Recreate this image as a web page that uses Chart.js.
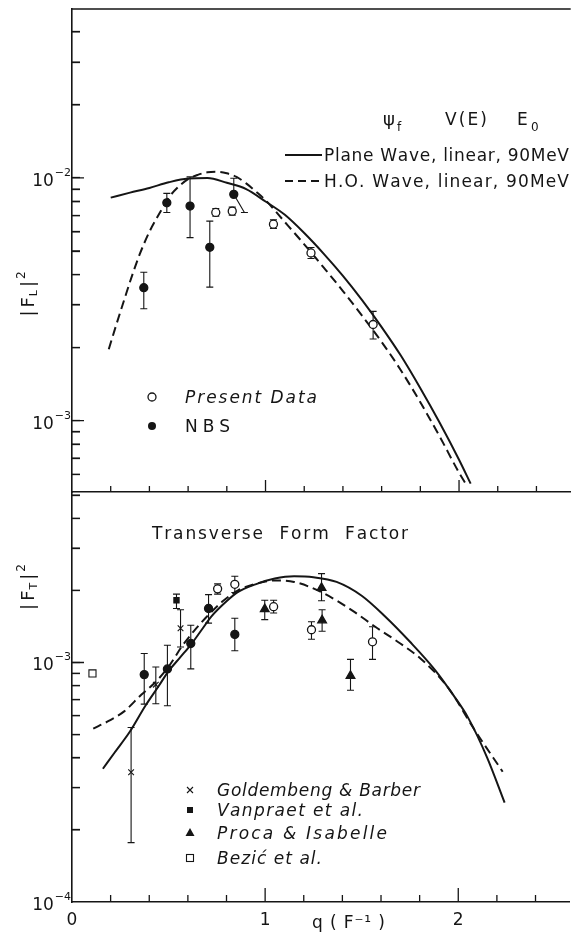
<!DOCTYPE html>
<html>
<head>
<meta charset="utf-8">
<script src="https://cdn.jsdelivr.net/npm/chart.js@4.4.1/dist/chart.umd.min.js"></script>
<style>
  html, body { margin: 0; padding: 0; background: #fff; }
  #wrap { position: relative; width: 576px; height: 937px; overflow: hidden; }
  #wrap canvas { position: absolute; left: 0; }
  #topCanvas { top: -20px; }
  #botCanvas { top: 462px; }
</style>
</head>
<body>
<div id="wrap">
  <canvas id="topCanvas" width="576" height="540"></canvas>
  <canvas id="botCanvas" width="576" height="475"></canvas>
</div>
<script>
// ---- values ----
const X_MAX = 2.577;
const X_LABEL_TICKS = [0, 1, 2];
const X_LABELS = ['0', '1', '2'];
const X_TICK_MARKS = [0.2, 0.4, 0.6, 0.8, 1.0, 1.2, 1.4, 1.6, 1.8, 2.0, 2.2, 2.4];
const DECADES = [1e-4, 1e-3, 1e-2];
const DECADE_EXPONENTS = ['−4', '−3', '−2'];
const LOG_MANTISSAS = [1, 2, 3, 4, 5, 6, 7, 8, 9];

// longitudinal form factor |F_L|^2
const planeTopQ = [0.20, 0.30, 0.40, 0.50, 0.60, 0.70, 0.80, 0.90, 1.00, 1.10, 1.20, 1.30, 1.40, 1.50, 1.60, 1.70, 1.80, 1.90, 2.00, 2.06];
const planeTopF = [8.3e-3, 8.7e-3, 9.1e-3, 9.6e-3, 9.95e-3, 1.0e-2, 9.55e-3, 9.0e-3, 8.0e-3, 7.05e-3, 5.93e-3, 4.88e-3, 3.95e-3, 3.13e-3, 2.43e-3, 1.85e-3, 1.36e-3, 9.8e-4, 6.9e-4, 5.5e-4];
const hoTopQ = [0.19, 0.23, 0.27, 0.31, 0.35, 0.40, 0.45, 0.50, 0.55, 0.60, 0.65, 0.70, 0.75, 0.80, 0.85, 0.90, 0.95, 1.00, 1.10, 1.20, 1.30, 1.40, 1.50, 1.60, 1.70, 1.80, 1.90, 2.00, 2.04];
const hoTopF = [1.97e-3, 2.5e-3, 3.15e-3, 3.95e-3, 4.85e-3, 6.0e-3, 7.1e-3, 8.3e-3, 9.2e-3, 9.9e-3, 1.03e-2, 1.055e-2, 1.06e-2, 1.045e-2, 1.01e-2, 9.5e-3, 8.8e-3, 8.1e-3, 6.58e-3, 5.33e-3, 4.28e-3, 3.42e-3, 2.7e-3, 2.11e-3, 1.61e-3, 1.19e-3, 8.6e-4, 6.1e-4, 5.4e-4];

const presentTopQ = [0.743, 0.828, 1.041, 1.235, 1.556];
const presentTopF = [7.21e-3, 7.3e-3, 6.45e-3, 4.91e-3, 2.49e-3];
const presentTopLo = [6.95e-3, 7.03e-3, 6.2e-3, 4.66e-3, 2.17e-3];
const presentTopHi = [7.48e-3, 7.58e-3, 6.72e-3, 5.17e-3, 2.82e-3];

const nbsTopQ = [0.371, 0.490, 0.610, 0.712, 0.836];
const nbsTopF = [3.53e-3, 7.9e-3, 7.66e-3, 5.18e-3, 8.56e-3];
const nbsTopLo = [2.89e-3, 7.21e-3, 5.68e-3, 3.55e-3, 7.21e-3];
const nbsTopHi = [4.09e-3, 8.64e-3, 1.01e-2, 6.64e-3, 9.97e-3];
const nbsTopLoShift = [0, 0, 0, 0, 0.055];

// transverse form factor |F_T|^2
const planeBotQ = [0.16, 0.22, 0.30, 0.38, 0.45, 0.50, 0.56, 0.62, 0.68, 0.72, 0.80, 0.86, 0.95, 1.05, 1.15, 1.25, 1.37, 1.50, 1.62, 1.75, 1.88, 1.98, 2.05, 2.15, 2.24];
const planeBotF = [3.6e-4, 4.2e-4, 5.15e-4, 6.6e-4, 8.0e-4, 9.2e-4, 1.05e-3, 1.2e-3, 1.4e-3, 1.55e-3, 1.8e-3, 1.97e-3, 2.12e-3, 2.24e-3, 2.29e-3, 2.27e-3, 2.17e-3, 1.9e-3, 1.56e-3, 1.22e-3, 9.3e-4, 7.2e-4, 5.9e-4, 4.0e-4, 2.6e-4];
const hoBotQ = [0.11, 0.19, 0.27, 0.36, 0.43, 0.50, 0.57, 0.63, 0.70, 0.78, 0.86, 0.95, 1.05, 1.15, 1.30, 1.45, 1.57, 1.70, 1.81, 1.95, 2.08, 2.23];
const hoBotF = [5.3e-4, 5.7e-4, 6.25e-4, 7.35e-4, 8.25e-4, 9.6e-4, 1.17e-3, 1.35e-3, 1.56e-3, 1.8e-3, 2.0e-3, 2.13e-3, 2.2e-3, 2.17e-3, 1.95e-3, 1.65e-3, 1.41e-3, 1.2e-3, 1.03e-3, 7.8e-4, 5.3e-4, 3.5e-4];

const presentBotQ = [0.754, 0.843, 1.044, 1.240, 1.556];
const presentBotF = [2.03e-3, 2.12e-3, 1.71e-3, 1.37e-3, 1.22e-3];
const presentBotLo = [1.93e-3, 1.96e-3, 1.61e-3, 1.25e-3, 1.03e-3];
const presentBotHi = [2.13e-3, 2.29e-3, 1.82e-3, 1.48e-3, 1.41e-3];

const nbsBotQ = [0.374, 0.494, 0.615, 0.707, 0.843];
const nbsBotF = [8.9e-4, 9.4e-4, 1.2e-3, 1.68e-3, 1.31e-3];
const nbsBotLo = [6.7e-4, 6.6e-4, 9.4e-4, 1.46e-3, 1.12e-3];
const nbsBotHi = [1.09e-3, 1.18e-3, 1.43e-3, 1.92e-3, 1.53e-3];

const goldQ = [0.306, 0.434, 0.562];
const goldF = [3.48e-4, 8.08e-4, 1.39e-3];
const goldLo = [1.77e-4, 6.73e-4, 1.16e-3];
const goldHi = [5.35e-4, 9.57e-4, 1.66e-3];

const vanQ = [0.541];
const vanF = [1.82e-3];
const vanLo = [1.68e-3];
const vanHi = [1.93e-3];

const procaQ = [0.998, 1.292, 1.295, 1.442];
const procaF = [1.67e-3, 2.05e-3, 1.50e-3, 8.8e-4];
const procaLo = [1.51e-3, 1.81e-3, 1.35e-3, 7.66e-4];
const procaHi = [1.82e-3, 2.35e-3, 1.66e-3, 1.03e-3];

const bezQ = [0.106];
const bezF = [9.0e-4];

const modelLegend = ['Plane Wave, linear, 90MeV', 'H.O. Wave, linear, 90MeV'];
const topPointLegend = ['Present Data', 'NBS'];
const botPointLegend = ['Goldembeng & Barber', 'Vanpraet et al.', 'Proca & Isabelle', 'Bezić et al.'];

// ---- drawing ----
const INK = '#151515';
const FONT = "'DejaVu Sans'";
const CAP = 3.5;
const TOP_OFFSET = -20;   // page y of the top canvas
const BOT_OFFSET = 462;   // page y of the bottom canvas

Chart.defaults.font.family = FONT;
Chart.defaults.color = INK;

const pts = (q, f) => q.map((x, i) => ({ x, y: f[i] }));

function qLabel(v) {
  const i = X_LABEL_TICKS.findIndex(t => Math.abs(v - t) < 1e-6);
  return i < 0 ? null : X_LABELS[i];
}

// 1..9 x 10^n values that fall inside the axis range
function logTickValues(lo, hi) {
  const out = [];
  [1e-5, 1e-4, 1e-3, 1e-2, 1e-1].forEach(dec => {
    LOG_MANTISSAS.forEach(m => {
      const v = m * dec;
      if (v > lo * 1.001 && v < hi * 0.999) out.push(v);
    });
  });
  return out;
}

// text spread letter by letter over a given width, centred on the cap height
function spaced(ctx, str, x, yMid, width, size, style) {
  ctx.save();
  ctx.font = `${style || ''} ${size}px ${FONT}`;
  ctx.fillStyle = INK;
  ctx.textAlign = 'left';
  ctx.textBaseline = 'alphabetic';
  const chars = Array.from(str);
  const widths = chars.map(c => ctx.measureText(c).width);
  const total = widths.reduce((s, w) => s + w, 0);
  const gap = chars.length > 1 ? (width - total) / (chars.length - 1) : 0;
  const base = yMid + size * 0.365;
  let xx = x;
  chars.forEach((c, i) => {
    if (c !== ' ') ctx.fillText(c, xx, base);
    xx += widths[i] + gap;
  });
  ctx.restore();
}

function plain(ctx, str, x, base, size) {
  ctx.font = `${size}px ${FONT}`;
  ctx.fillText(str, x, base);
}

// |F_x|^2 written bottom to top
function axisTitle(ctx, cx, cy, sub) {
  ctx.save();
  ctx.translate(cx, cy);
  ctx.rotate(-Math.PI / 2);
  ctx.fillStyle = INK;
  ctx.textBaseline = 'alphabetic';
  const parts = [
    { t: '|', size: 18, dy: 6.5, gap: 3 },
    { t: 'F', size: 18, dy: 6.5, gap: 1 },
    { t: sub, size: 11, dy: 10, gap: 3 },
    { t: '|', size: 18, dy: 6.5, gap: 2 },
    { t: '2', size: 12, dy: -2, gap: 0 }
  ];
  let total = 0;
  parts.forEach(p => {
    ctx.font = `${p.size}px ${FONT}`;
    p.w = ctx.measureText(p.t).width;
    total += p.w + p.gap;
  });
  let xx = -total / 2;
  parts.forEach(p => {
    ctx.font = `${p.size}px ${FONT}`;
    ctx.fillText(p.t, xx, p.dy);
    xx += p.w + p.gap;
  });
  ctx.restore();
}

function marker(ctx, style, x, y) {
  ctx.save();
  ctx.strokeStyle = INK;
  ctx.fillStyle = INK;
  ctx.lineWidth = 1.3;
  ctx.beginPath();
  if (style === 'open') {
    ctx.arc(x, y, 4, 0, Math.PI * 2);
    ctx.fillStyle = '#fff'; ctx.fill(); ctx.stroke();
  } else if (style === 'dot') {
    ctx.arc(x, y, 4, 0, Math.PI * 2);
    ctx.fill();
  } else if (style === 'cross') {
    ctx.lineWidth = 1.1;
    ctx.moveTo(x - 3, y - 3); ctx.lineTo(x + 3, y + 3);
    ctx.moveTo(x + 3, y - 3); ctx.lineTo(x - 3, y + 3);
    ctx.stroke();
  } else if (style === 'square') {
    ctx.fillRect(x - 3, y - 3, 6, 6);
  } else if (style === 'triangle') {
    ctx.moveTo(x, y - 5); ctx.lineTo(x + 4.5, y + 3); ctx.lineTo(x - 4.5, y + 3);
    ctx.closePath(); ctx.fill();
  } else if (style === 'box') {
    ctx.lineWidth = 1.1;
    ctx.strokeRect(x - 3.5, y - 3.5, 7, 7);
  }
  ctx.restore();
}

// inward tick marks, 10^n labels and the top frame line
function paperAxes(id, len) {
  return {
    id,
    afterDraw(chart) {
      const { ctx, chartArea: a } = chart;
      const x = chart.scales.x, y = chart.scales.y;
      ctx.save();
      ctx.setLineDash([]);
      ctx.strokeStyle = INK;
      ctx.lineWidth = 1.3;

      ctx.beginPath();
      X_TICK_MARKS.forEach(v => {
        const px = x.getPixelForValue(v);
        const major = Math.abs(v - Math.round(v)) < 1e-6;
        ctx.moveTo(px, a.bottom);
        ctx.lineTo(px, a.bottom - (major ? len.xMajor : len.xMinor));
      });
      ctx.stroke();

      ctx.beginPath();
      logTickValues(y.min, y.max).forEach(v => {
        const py = y.getPixelForValue(v);
        const lg = Math.log10(v);
        const major = Math.abs(lg - Math.round(lg)) < 1e-6;
        ctx.moveTo(a.left, py);
        ctx.lineTo(a.left + (major ? len.yMajor : len.yMinor), py);
      });
      ctx.stroke();

      if (len.topLine) {
        ctx.beginPath();
        ctx.moveTo(a.left, a.top);
        ctx.lineTo(a.right, a.top);
        ctx.stroke();
      }

      // decade labels: "10" with a raised exponent
      ctx.fillStyle = INK;
      ctx.textBaseline = 'alphabetic';
      ctx.textAlign = 'left';
      DECADES.forEach((d, i) => {
        const py = y.getPixelForValue(d);
        if (!(py > a.top - 2 && py < a.bottom + 2)) return;
        ctx.font = `11px ${FONT}`;
        const sup = DECADE_EXPONENTS[i];
        const sw = ctx.measureText(sup).width;
        ctx.fillText(sup, a.left - 1 - sw, py - 2);
        ctx.font = `17px ${FONT}`;
        const tw = ctx.measureText('10').width;
        ctx.fillText('10', a.left - 2 - sw - tw, py + 8);
      });
      ctx.restore();
    }
  };
}

// vertical error bars, drawn under the markers
const errorBars = {
  id: 'errorBars',
  beforeDatasetsDraw(chart) {
    const { ctx } = chart;
    const x = chart.scales.x, y = chart.scales.y;
    ctx.save();
    ctx.setLineDash([]);
    ctx.strokeStyle = INK;
    ctx.lineWidth = 1.1;
    chart.data.datasets.forEach((ds, i) => {
      if (!ds.errLo) return;
      const meta = chart.getDatasetMeta(i);
      meta.data.forEach((pt, j) => {
        const yHi = y.getPixelForValue(ds.errHi[j]);
        const yLo = y.getPixelForValue(ds.errLo[j]);
        const xLo = ds.errShift ? x.getPixelForValue(ds.data[j].x + ds.errShift[j]) : pt.x;
        ctx.beginPath();
        ctx.moveTo(pt.x, yHi); ctx.lineTo(pt.x, pt.y); ctx.lineTo(xLo, yLo);
        ctx.moveTo(pt.x - CAP, yHi); ctx.lineTo(pt.x + CAP, yHi);
        ctx.moveTo(xLo - CAP, yLo); ctx.lineTo(xLo + CAP, yLo);
        ctx.stroke();
      });
    });
    ctx.restore();
  }
};

const topDecor = {
  id: 'topDecor',
  afterDraw(chart) {
    const { ctx } = chart;
    ctx.save();
    ctx.translate(0, -TOP_OFFSET);
    ctx.fillStyle = INK;
    ctx.textBaseline = 'alphabetic';
    ctx.textAlign = 'left';
    // column header
    plain(ctx, 'ψ', 383, 125, 18);
    plain(ctx, 'f', 397, 131, 12);
    spaced(ctx, 'V(E)', 445, 119, 42, 17);
    plain(ctx, 'E', 517, 125, 17);
    plain(ctx, '0', 531, 131, 12);
    // model legend
    ctx.strokeStyle = INK;
    ctx.lineWidth = 2;
    ctx.beginPath(); ctx.moveTo(285, 155); ctx.lineTo(322, 155); ctx.stroke();
    ctx.setLineDash([8, 5]);
    ctx.beginPath(); ctx.moveTo(285, 181); ctx.lineTo(322, 181); ctx.stroke();
    ctx.setLineDash([]);
    spaced(ctx, modelLegend[0], 324, 155, 245, 17);
    spaced(ctx, modelLegend[1], 324, 181, 245, 17);
    // data legend
    marker(ctx, 'open', 152, 397);
    marker(ctx, 'dot', 152, 426);
    spaced(ctx, topPointLegend[0], 185, 397, 132, 17, 'italic');
    spaced(ctx, topPointLegend[1], 185, 426, 45, 17);
    axisTitle(ctx, 27, 294, 'L');
    ctx.restore();
  }
};

const botDecor = {
  id: 'botDecor',
  afterDraw(chart) {
    const { ctx } = chart;
    ctx.save();
    ctx.translate(0, -BOT_OFFSET);
    spaced(ctx, 'Transverse  Form  Factor', 152, 533, 256, 17);
    const sy = [790, 810, 833, 858];
    const st = ['cross', 'square', 'triangle', 'box'];
    const ends = [420, 363, 387, 322];
    botPointLegend.forEach((t, i) => {
      marker(ctx, st[i], 190, sy[i]);
      spaced(ctx, t, 217, sy[i], ends[i] - 217, 17, 'italic');
    });
    spaced(ctx, 'q ( F⁻¹ )', 312, 922, 73, 17);
    axisTitle(ctx, 27, 587, 'T');
    ctx.restore();
  }
};

function curve(label, q, f, dash) {
  return {
    type: 'line', label, data: pts(q, f),
    borderColor: INK, borderWidth: 2, borderDash: dash || [],
    pointRadius: 0, fill: false, cubicInterpolationMode: 'monotone'
  };
}
function points(label, q, f, style, extra) {
  const base = {
    type: 'scatter', label, data: pts(q, f),
    pointStyle: 'circle', pointRadius: 4, pointBorderWidth: 1.3,
    pointBackgroundColor: INK, pointBorderColor: INK
  };
  if (style === 'open') base.pointBackgroundColor = '#fff';
  if (style === 'cross') Object.assign(base, { pointStyle: 'crossRot', pointRadius: 4, pointBorderWidth: 1.1 });
  if (style === 'square') Object.assign(base, { pointStyle: 'rect', pointRadius: 3.6 });
  if (style === 'triangle') Object.assign(base, { pointStyle: 'triangle', pointRadius: 5 });
  if (style === 'box') Object.assign(base, { pointStyle: 'rect', pointRadius: 5, pointBackgroundColor: '#fff', pointBorderWidth: 1.1 });
  return Object.assign(base, extra || {});
}

function axes(yMin, yMax, xHeight, showX) {
  return {
    x: {
      type: 'linear', min: 0, max: X_MAX,
      grid: { display: false, drawTicks: false },
      border: { display: true, color: INK, width: 1.6 },
      ticks: { display: showX, stepSize: 1, autoSkip: false, includeBounds: false, maxRotation: 0,
               padding: 8, font: { size: 17 }, color: INK, callback: qLabel },
      afterFit(s) { s.height = xHeight; }
    },
    y: {
      type: 'logarithmic', min: yMin, max: yMax,
      // the library's own tick marks, turned to point into the plot
      grid: { display: true, drawOnChartArea: false, drawTicks: true, tickLength: -8,
              tickColor: INK, tickWidth: 1.3 },
      border: { display: true, color: INK, width: 1.6 },
      ticks: { display: false },
      afterBuildTicks(s) { s.ticks = logTickValues(yMin, yMax).map(v => ({ value: v })); },
      afterFit(s) { s.width = 72; }
    }
  };
}

const common = {
  responsive: false,
  animation: false,
  events: [],
  plugins: { legend: { display: false }, tooltip: { enabled: false } }
};

// top panel: chart area spans page y 9..492
new Chart(document.getElementById('topCanvas'), {
  type: 'scatter',
  data: {
    datasets: [
      points('Present Data', presentTopQ, presentTopF, 'open', { errLo: presentTopLo, errHi: presentTopHi }),
      points('NBS', nbsTopQ, nbsTopF, 'dot', { errLo: nbsTopLo, errHi: nbsTopHi, errShift: nbsTopLoShift }),
      curve(modelLegend[0], planeTopQ, planeTopF),
      curve(modelLegend[1], hoTopQ, hoTopF, [9, 5])
    ]
  },
  options: Object.assign({}, common, {
    layout: { padding: { top: 9 - TOP_OFFSET, left: 0, right: 0, bottom: 0 } },
    scales: axes(5.08e-4, 4.97e-2, 540 - (492 - TOP_OFFSET), false)
  }),
  plugins: [paperAxes('topAxes', { xMinor: 6, xMajor: 12, yMinor: 8, yMajor: 12, topLine: true }), errorBars, topDecor]
});

// bottom panel: chart area spans page y 492..902
new Chart(document.getElementById('botCanvas'), {
  type: 'scatter',
  data: {
    datasets: [
      points('Present Data', presentBotQ, presentBotF, 'open', { errLo: presentBotLo, errHi: presentBotHi }),
      points('NBS', nbsBotQ, nbsBotF, 'dot', { errLo: nbsBotLo, errHi: nbsBotHi }),
      points(botPointLegend[0], goldQ, goldF, 'cross', { errLo: goldLo, errHi: goldHi }),
      points(botPointLegend[1], vanQ, vanF, 'square', { errLo: vanLo, errHi: vanHi }),
      points(botPointLegend[2], procaQ, procaF, 'triangle', { errLo: procaLo, errHi: procaHi }),
      points(botPointLegend[3], bezQ, bezF, 'box'),
      curve(modelLegend[0], planeBotQ, planeBotF),
      curve(modelLegend[1], hoBotQ, hoBotF, [9, 5])
    ]
  },
  options: Object.assign({}, common, {
    layout: { padding: { top: 492 - BOT_OFFSET, left: 0, right: 0, bottom: 0 } },
    scales: axes(1e-4, 5.15e-3, 475 - (902 - BOT_OFFSET), true)
  }),
  plugins: [paperAxes('botAxes', { xMinor: 7, xMajor: 14, yMinor: 8, yMajor: 12, topLine: false }), errorBars, botDecor]
});
</script>
</body>
</html>
